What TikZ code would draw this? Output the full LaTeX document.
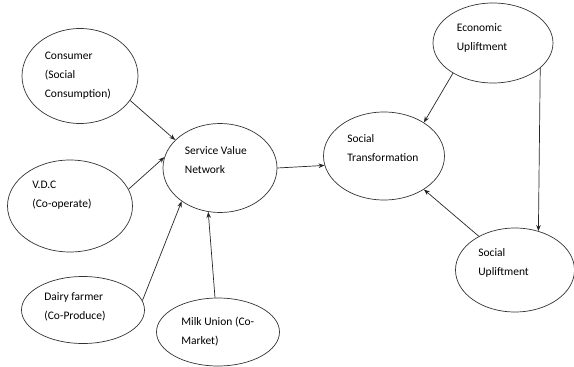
\documentclass[tikz,border=0pt]{standalone}
\usepackage{fontspec}
\setmainfont{Carlito}
\usepackage{tikz}
\usetikzlibrary{positioning,shapes,arrows.meta}

\begin{document}
\begin{tikzpicture}[x=1pt,y=-1pt,
    bubble/.style={ellipse,draw=black!80,line width=0.7pt,inner sep=0pt},
    txt/.style={anchor=west,align=left,inner sep=0pt,font={\fontsize{11.5}{19}\selectfont}},
    link/.style={line width=0.7pt,draw=black!85,-{Stealth[length=6pt,width=4.5pt]}}]
    \useasboundingbox (0,0) rectangle (574,367);

    % Ellipses (left side)
    \node[bubble,minimum width=116pt,minimum height=95pt] (cons) at (80,76) {};
    \node[bubble,minimum width=125pt,minimum height=92pt] (vdc) at (70,206) {};
    \node[bubble,minimum width=123pt,minimum height=67pt] (dairy) at (83,310) {};
    \node[bubble,minimum width=123pt,minimum height=68pt] (milk) at (218,332) {};
    \node[bubble,minimum width=114pt,minimum height=89pt] (svn) at (220,168) {};

    % Ellipses (right side)
    \node[bubble,minimum width=121pt,minimum height=88pt] (st) at (384,156) {};
    \node[bubble,minimum width=120pt,minimum height=80pt] (eu) at (493,43) {};
    \node[bubble,minimum width=119pt,minimum height=84pt] (su) at (515,270) {};

    % Texts
    \node[txt] (const) at ([xshift=23pt]cons.west) {Consumer\\(Social\\Consumption)};
    \node[txt] (vdct) at ([xshift=25pt,yshift=11pt]vdc.west) {V.D.C\\(Co-operate)};
    \node[txt] (dairyt) at ([xshift=23pt,yshift=3pt]dairy.west) {Dairy farmer\\(Co-Produce)};
    \node[txt] (milkt) at ([xshift=25pt]milk.west) {Milk Union (Co-\\Market)};
    \node[txt] (svnt) at ([xshift=22pt,yshift=8pt]svn.west) {Service Value\\Network};
    \node[txt] (stt) at ([xshift=24pt,yshift=8pt]st.west) {Social\\Transformation};
    \node[txt] (eut) at ([xshift=24pt,yshift=5pt]eu.west) {Economic\\Upliftment};
    \node[txt] (sut) at ([xshift=23pt,yshift=7pt]su.west) {Social\\Upliftment};

    % Arrows
    \draw[link] (cons.-26) -- (svn.148);
    \draw[link] (vdc.16) -- (svn.169);
    \draw[link] (dairy.9) -- (svn.221);
    \draw[link] (milk.95) -- (svn.255);
    \draw[link] (svn.east) -- (st.189);
    \draw[link] (eu.217) -- (st.40);
    \draw[link] (eu.-28) -- (su.59);
    \draw[link] (su.137) -- (st.-40);
\end{tikzpicture}
\end{document}
